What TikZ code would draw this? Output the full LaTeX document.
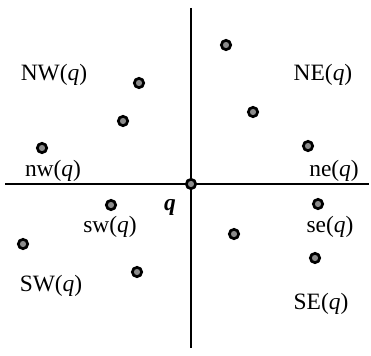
\documentclass[tikz,border=0pt]{standalone}
\usepackage{fontspec}
\setmainfont{Liberation Serif}
\usetikzlibrary{calc}

\tikzset{
  pt/.style={circle,draw=black,line width=2.3pt,fill=black!45,inner sep=0pt,minimum size=0.28cm},
  lbl/.style={font=\fontsize{20}{24}\selectfont},
  axis/.style={line width=1.8pt}
}

\begin{document}
\begin{tikzpicture}[x=0.03cm,y=0.03cm]
\useasboundingbox (0,0) rectangle (371,355);

% the two axes through q
\coordinate (top) at (191,347);
\coordinate (bot) at (191,7);
\coordinate (lft) at (5,171);
\coordinate (rgt) at (369,171);
\draw[axis] (top) -- (bot);
\draw[axis] (lft) -- (rgt);

\node[pt] (q) at (191,171) {};

% sample points in the four quadrants
\foreach \n/\x/\y in {ne1/226/310, nw1/139/272, nw2/123/234, ne2/253/243,
  ne3/308/209, nw3/42/207, sw1/111/150, se1/318/151, se2/234/121,
  sw2/23/111, sw3/137/83, se3/315/97} {
  \node[pt] (\n) at (\x,\y) {};
}

\node[lbl] (NWq) at (54,280) {NW(\textit{q})};
\node[lbl] (NEq) at (323,280) {NE(\textit{q})};
\node[lbl] (nwq) at (53,184) {nw(\textit{q})};
\node[lbl] (neq) at (334,184) {ne(\textit{q})};
\node[lbl] (qq) at (170,148) {\textbf{\textit{q}}};
\node[lbl] (swq) at (110,128) {sw(\textit{q})};
\node[lbl] (seq) at (330,128) {se(\textit{q})};
\node[lbl] (SWq) at (51,69) {SW(\textit{q})};
\node[lbl] (SEq) at (321,51) {SE(\textit{q})};
\end{tikzpicture}
\end{document}
